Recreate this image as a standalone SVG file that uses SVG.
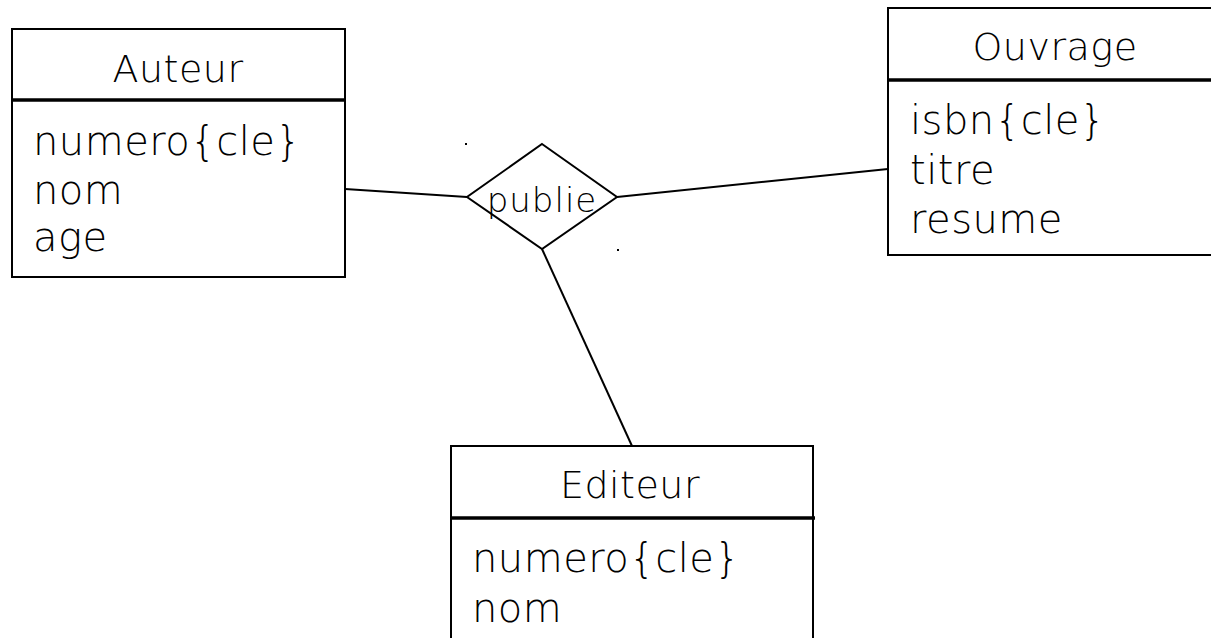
<svg xmlns="http://www.w3.org/2000/svg" width="1211" height="638" viewBox="0 0 1211 638">
<style>
.box{fill:none;stroke:#000;stroke-width:2}
.sep{stroke:#000;stroke-width:3.5}
.t{font-family:"DejaVu Sans","Liberation Sans",sans-serif;font-weight:200;font-size:40px;fill:#000;letter-spacing:0.5px}
.h{text-anchor:middle;font-size:38px;letter-spacing:0.5px}
.c{stroke:#000;stroke-width:2;fill:none}
</style>
<rect width="1211" height="638" fill="#fff"/>
<g id="connectors">
<line class="c" x1="345" y1="189" x2="467" y2="197"/>
<line class="c" x1="617" y1="197" x2="888" y2="169"/>
<line class="c" x1="542" y1="249" x2="632" y2="446"/>
</g>
<g id="auteur">
<rect class="box" x="12" y="29" width="333" height="248"/>
<line class="sep" x1="12" y1="100" x2="346" y2="100"/>
<text class="t h" x="178" y="82">Auteur</text>
<text class="t" x="33" y="155">numero{cle}</text>
<text class="t" x="33" y="204">nom</text>
<text class="t" x="33" y="251">age</text>
</g>
<g id="ouvrage">
<rect class="box" x="888" y="8" width="334" height="247"/>
<line class="sep" x1="888" y1="80" x2="1222" y2="80"/>
<text class="t h" x="1055" y="60">Ouvrage</text>
<text class="t" x="910" y="134">isbn{cle}</text>
<text class="t" x="910" y="184">titre</text>
<text class="t" x="910" y="233">resume</text>
</g>
<g id="editeur">
<rect class="box" x="451" y="446" width="362" height="210"/>
<line class="sep" x1="451" y1="518" x2="815" y2="518"/>
<text class="t h" x="630" y="498">Editeur</text>
<text class="t" x="472" y="572">numero{cle}</text>
<text class="t" x="472" y="622">nom</text>
</g>
<g id="publie">
<polygon class="box" points="542,144 617,197 542,249 467,197"/>
<text class="t h" x="542" y="212" style="font-size:34px;letter-spacing:1px">publie</text>
</g>
<rect x="465" y="143" width="2" height="2" fill="#000"/>
<rect x="617" y="249" width="2" height="2" fill="#000"/>
</svg>
